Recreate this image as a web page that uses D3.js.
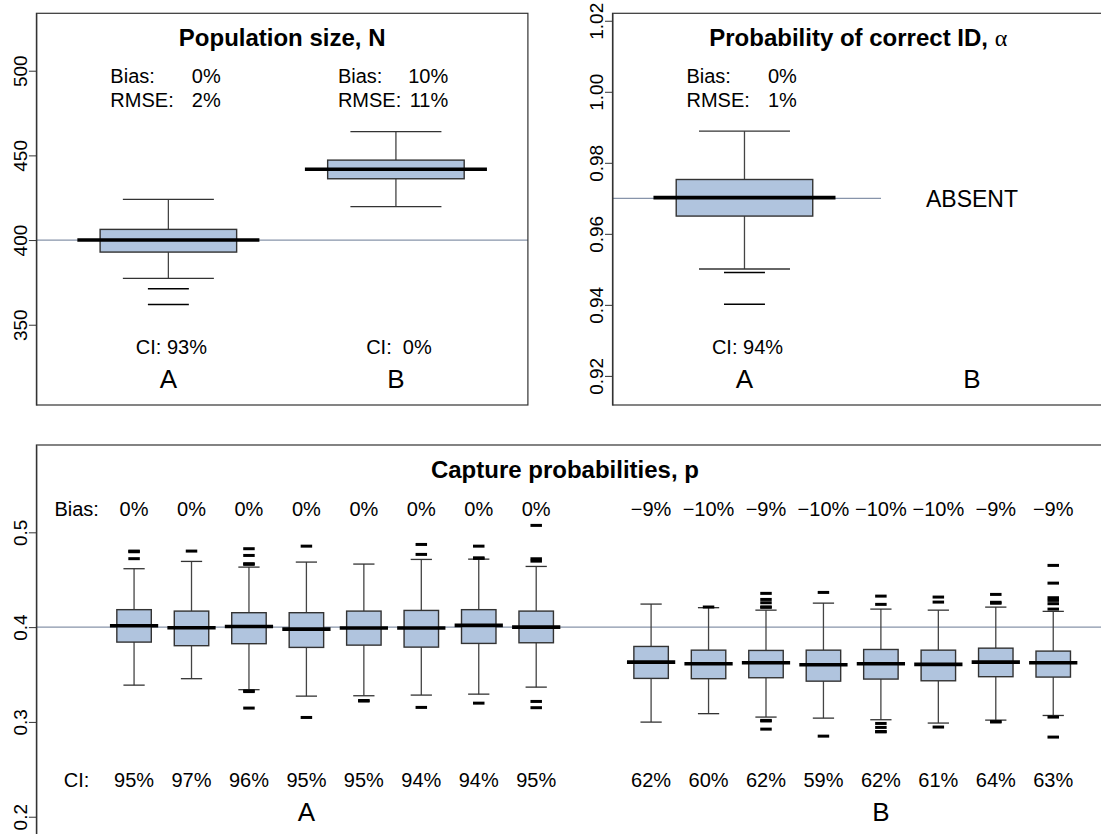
<!DOCTYPE html>
<html>
<head>
<meta charset="utf-8">
<script src="https://cdn.jsdelivr.net/npm/d3@7"></script>
<style>
  body { margin: 0; background: #fff; }
  svg text { font-family: "Liberation Sans", Arial, sans-serif; fill: #000; white-space: pre; }
</style>
</head>
<body>
<div id="chart"></div>
<script>
// values
// box stats are [lower whisker, Q1, median, Q3, upper whisker]

// Population size, N
const nTrue = 400;
const nStats = [
  [377.4, 392.9, 400.0, 406.3, 424.0],
  [419.7, 436.2, 441.8, 447.2, 464.0],
];
const nOutliers = [[371.3, 362.0], []];
const nBias = ["0%", "10%"];
const nRmse = ["2%", "11%"];
const nCI = [" 93%", "  0%"];
const nTicks = [350, 400, 450, 500];

// Probability of correct ID, alpha (scenario B has none)
const alphaTrue = 0.97;
const alphaStats = [[0.9501, 0.9650, 0.9702, 0.9753, 0.9889]];
const alphaOutliers = [[0.9491, 0.9402]];
const alphaBias = ["0%"];
const alphaRmse = ["1%"];
const alphaCI = [" 94%"];
const alphaTicks = [0.92, 0.94, 0.96, 0.98, 1.00, 1.02];

// Capture probabilities, p (8 occasions per scenario)
const pTrue = 0.4;
const pStatsA = [
  [0.3388, 0.3842, 0.4015, 0.4184, 0.4616],
  [0.3456, 0.3804, 0.3994, 0.4169, 0.4693],
  [0.3340, 0.3825, 0.4007, 0.4152, 0.4633],
  [0.3272, 0.3786, 0.3979, 0.4152, 0.4686],
  [0.3276, 0.3810, 0.3990, 0.4169, 0.4665],
  [0.3283, 0.3789, 0.3990, 0.4176, 0.4714],
  [0.3293, 0.3828, 0.4018, 0.4184, 0.4717],
  [0.3367, 0.3835, 0.4000, 0.4169, 0.4640],
];
const pOutA = [
  [0.4802, 0.4795, 0.4722],
  [0.4802],
  [0.4827, 0.4756, 0.4669, 0.4662, 0.3327, 0.3320, 0.3146],
  [0.4854, 0.3047],
  [0.3226, 0.3220],
  [0.4872, 0.4767, 0.3153],
  [0.4854, 0.4730, 0.4726, 0.3198],
  [0.5073, 0.4721, 0.4696, 0.3216, 0.3150],
];
const pStatsB = [
  [0.2998, 0.3459, 0.3631, 0.3796, 0.4243],
  [0.3087, 0.3456, 0.3614, 0.3757, 0.4205],
  [0.3051, 0.3466, 0.3624, 0.3754, 0.4179],
  [0.3040, 0.3430, 0.3603, 0.3757, 0.4253],
  [0.3023, 0.3452, 0.3613, 0.3764, 0.4190],
  [0.2988, 0.3434, 0.3607, 0.3757, 0.4179],
  [0.3019, 0.3477, 0.3631, 0.3778, 0.4211],
  [0.3068, 0.3473, 0.3624, 0.3747, 0.4166],
];
const pOutB = [
  [],
  [0.4212],
  [0.4356, 0.4292, 0.4257, 0.4213, 0.4209, 0.3016, 0.3010, 0.2924],
  [0.4366, 0.2850],
  [0.4327, 0.4240, 0.2984, 0.2942, 0.2899, 0.2895],
  [0.4317, 0.4264, 0.2946],
  [0.4345, 0.4262, 0.4252, 0.3003, 0.3000],
  [0.4651, 0.4464, 0.4310, 0.4282, 0.4247, 0.4190, 0.3051, 0.2840],
];
const pBiasA = ["0%", "0%", "0%", "0%", "0%", "0%", "0%", "0%"];
const pBiasB = ["\u22129%", "\u221210%", "\u22129%", "\u221210%", "\u221210%", "\u221210%", "\u22129%", "\u22129%"];
const pCiA = ["95%", "97%", "96%", "95%", "95%", "94%", "94%", "95%"];
const pCiB = ["62%", "60%", "62%", "59%", "62%", "61%", "64%", "63%"];
const pTicks = [0.2, 0.3, 0.4, 0.5];

const width = 1101;
const height = 834;
const boxFill = "#b0c4de";
const refColor = "#8794aa";

const svg = d3.select("#chart").append("svg")
  .attr("width", width)
  .attr("height", height);

svg.append("rect").attr("width", width).attr("height", height).attr("fill", "#fff");

// scales (top panels are the same size; right one is cut off at the page edge)
const xTL = d3.scaleLinear().domain([0.42, 2.58]).range([36.4, 527.9]);
const yTL = d3.scaleLinear().domain([302.6, 533.9]).range([405, 13.3]);
const xTR = d3.scaleLinear().domain([0.42, 2.58]).range([612.5, 1104]);
const yTR = d3.scaleLinear().domain([0.9118, 1.0221]).range([405, 13.3]);
const xB = d3.scaleLinear().domain([-0.7, 18.7]).range([36.4, 1150.9]);
const yB = d3.scaleLinear().domain([0.1438, 0.5921]).range([870, 445]);

function frame(x, y) {
  const [x0, x1] = x.range();
  const [y1, y0] = y.range();
  svg.append("rect")
    .attr("x", x0).attr("y", y0)
    .attr("width", x1 - x0).attr("height", y1 - y0)
    .attr("fill", "none").attr("stroke", "#333").attr("stroke-width", 1.2);
}

function yAxis(x, y, ticks, fmt) {
  const g = svg.append("g")
    .attr("transform", `translate(${x.range()[0]},0)`)
    .call(d3.axisLeft(y).tickValues(ticks).tickFormat(fmt).tickSize(7.5).tickSizeOuter(0));
  g.select(".domain").attr("stroke", "#333");
  g.selectAll(".tick line").attr("stroke", "#333");
  g.selectAll(".tick text")
    .attr("transform", "rotate(-90)")
    .attr("x", 0).attr("y", -9.5).attr("dy", 0)
    .attr("text-anchor", "middle")
    .attr("font-size", 19)
    .attr("fill", "#000");
}

function refLine(x, y, v, xEnd) {
  svg.append("line")
    .attr("x1", x.range()[0]).attr("x2", xEnd)
    .attr("y1", y(v)).attr("y2", y(v))
    .attr("stroke", refColor).attr("stroke-width", 1.2);
}

function drawBox(x, y, pos, s, outs, o) {
  const g = svg.append("g");
  const cx = x(pos);
  const seg = (w, v) => g.append("line")
    .attr("x1", x(pos - w / 2)).attr("x2", x(pos + w / 2))
    .attr("y1", y(v)).attr("y2", y(v));
  // whiskers
  g.append("line").attr("x1", cx).attr("x2", cx).attr("y1", y(s[3])).attr("y2", y(s[4]))
    .attr("stroke", "#444").attr("stroke-width", 1.3);
  g.append("line").attr("x1", cx).attr("x2", cx).attr("y1", y(s[1])).attr("y2", y(s[0]))
    .attr("stroke", "#444").attr("stroke-width", 1.3);
  seg(o.cap, s[4]).attr("stroke", "#333").attr("stroke-width", 1.3);
  seg(o.cap, s[0]).attr("stroke", "#333").attr("stroke-width", 1.3);
  // box
  g.append("rect")
    .attr("x", x(pos - o.box / 2)).attr("y", y(s[3]))
    .attr("width", x(pos + o.box / 2) - x(pos - o.box / 2))
    .attr("height", y(s[1]) - y(s[3]))
    .attr("fill", boxFill).attr("stroke", "#333").attr("stroke-width", 1.4);
  // median
  seg(o.med, s[2]).attr("stroke", "#000").attr("stroke-width", 3.6);
  // outliers
  outs.forEach(v => seg(o.out, v).attr("stroke", "#000").attr("stroke-width", o.outW));
}

function label(x, y, str, opts = {}) {
  return svg.append("text")
    .attr("x", x).attr("y", y)
    .attr("text-anchor", opts.anchor || "middle")
    .attr("font-size", opts.size || 20)
    .attr("font-weight", opts.bold ? "bold" : null)
    .text(str);
}

const topBox = { box: 0.6, med: 0.8, cap: 0.4, out: 0.18, outW: 1.5 };
const botBox = { box: 0.6, med: 0.84, cap: 0.37, out: 0.2, outW: 3 };

// ---- Population size, N ----
refLine(xTL, yTL, nTrue, xTL.range()[1]);
nStats.forEach((s, i) => drawBox(xTL, yTL, i + 1, s, nOutliers[i], topBox));
frame(xTL, yTL);
yAxis(xTL, yTL, nTicks, d3.format("d"));
label(d3.mean(xTL.range()), 46, "Population size, N", { size: 24, bold: true });
["A", "B"].forEach((grp, i) => {
  const p = i + 1;
  label(xTL(p - 0.255), 83.3, "Bias:", { anchor: "start" });
  label(xTL(p + 0.23), 83.3, nBias[i], { anchor: "end" });
  label(xTL(p - 0.255), 107.3, "RMSE:", { anchor: "start" });
  label(xTL(p + 0.23), 107.3, nRmse[i], { anchor: "end" });
  label(xTL(p) + 3, 354.3, "CI:" + nCI[i]);
  label(xTL(p), 388.3, grp, { size: 26 });
});

// ---- Probability of correct ID, alpha ----
refLine(xTR, yTR, alphaTrue, xTR(1.6));
alphaStats.forEach((s, i) => drawBox(xTR, yTR, i + 1, s, alphaOutliers[i], topBox));
frame(xTR, yTR);
yAxis(xTR, yTR, alphaTicks, d3.format(".2f"));
const tTitle = label(d3.mean(xTR.range()), 46, "", { size: 24, bold: true });
tTitle.append("tspan").text("Probability of correct ID, ");
tTitle.append("tspan").attr("font-weight", "normal")
  .style("font-family", "'Liberation Serif', 'DejaVu Serif', serif").text("\u03b1");
label(xTR(1 - 0.255), 83.3, "Bias:", { anchor: "start" });
label(xTR(1 + 0.23), 83.3, alphaBias[0], { anchor: "end" });
label(xTR(1 - 0.255), 107.3, "RMSE:", { anchor: "start" });
label(xTR(1 + 0.23), 107.3, alphaRmse[0], { anchor: "end" });
label(xTR(1) + 3, 354.3, "CI:" + alphaCI[0]);
label(xTR(2), 206.7, "ABSENT", { size: 23 });
label(xTR(1), 388.3, "A", { size: 26 });
label(xTR(2), 388.3, "B", { size: 26 });

// ---- Capture probabilities, p ----
refLine(xB, yB, pTrue, xB.range()[1]);
pStatsA.forEach((s, i) => drawBox(xB, yB, i + 1, s, pOutA[i], botBox));
pStatsB.forEach((s, i) => drawBox(xB, yB, i + 10, s, pOutB[i], botBox));
frame(xB, yB);
yAxis(xB, yB, pTicks, d3.format(".1f"));
label(xB(8.5), 478.3, "Capture probabilities, p", { size: 24, bold: true });
label(xB(0), 516, "Bias:");
label(xB(0), 786.7, "CI:");
pBiasA.forEach((b, i) => label(xB(i + 1), 516, b));
pBiasB.forEach((b, i) => label(xB(i + 10), 516, b));
pCiA.forEach((c, i) => label(xB(i + 1), 786.7, c));
pCiB.forEach((c, i) => label(xB(i + 10), 786.7, c));
label(xB(4), 821, "A", { size: 26 });
label(xB(14), 821, "B", { size: 26 });
</script>
</body>
</html>
